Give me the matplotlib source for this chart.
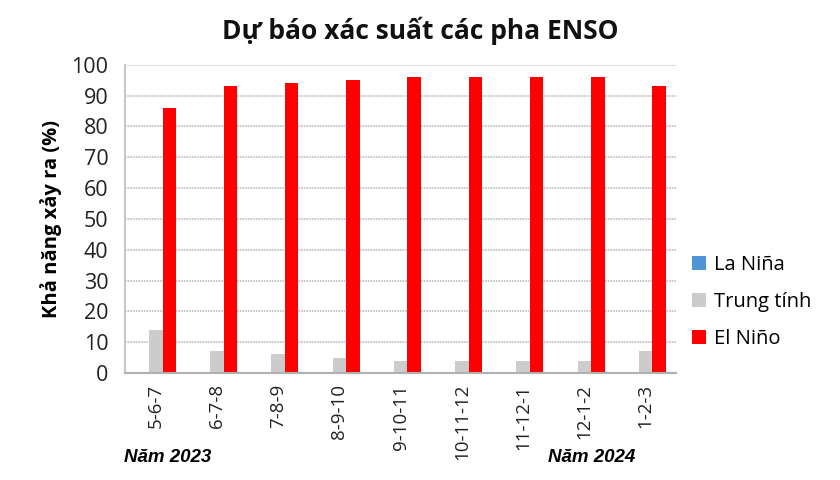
import matplotlib.pyplot as plt
import numpy as np

plt.rcParams['font.family'] = ['Open Sans', 'DejaVu Sans']

seasons = ['5-6-7', '6-7-8', '7-8-9', '8-9-10', '9-10-11', '10-11-12', '11-12-1', '12-1-2', '1-2-3']
la_nina = [0, 0, 0, 0, 0, 0, 0, 0, 0]
trung_tinh = [14, 7, 6, 5, 4, 4, 4, 4, 7]
el_nino = [86, 93, 94, 95, 96, 96, 96, 96, 93]

fig = plt.figure(figsize=(8.4, 4.8), dpi=100)
ax = fig.add_axes([0.149, 0.223, 0.656, 0.642])

x = np.arange(len(seasons))
w = 0.22
ax.bar(x - w, la_nina, w, color='#4f94d4', label='La Niña')
ax.bar(x, trung_tinh, w, color='#cccccc', label='Trung tính')
ax.bar(x + w, el_nino, w, color='#ff0000', label='El Niño')

ax.set_xlim(-0.5, len(seasons) - 0.5)
ax.set_ylim(0, 100)
ax.set_yticks(range(0, 101, 10))
ax.tick_params(axis='y', labelsize=15.5, length=0, pad=12, colors='#222222')
ax.set_xticks(x)
ax.set_xticklabels(seasons, rotation=90, fontsize=13.5)
ax.tick_params(axis='x', length=0, pad=8, colors='#222222')

ax.yaxis.grid(True, color='#b8c0c8', linestyle=(0, (1, 0.6)), linewidth=1.2)
ax.set_axisbelow(True)
for s in ['top', 'right']:
    ax.spines[s].set_visible(False)
ax.spines['left'].set_color('#c8c8c8')
ax.spines['bottom'].set_color('#b0b0b0')
ax.spines['left'].set_linewidth(1.5)
ax.spines['bottom'].set_linewidth(1.5)

ax.set_ylabel('Khả năng xảy ra (%)', fontsize=14.5, fontweight='bold', labelpad=7)
fig.text(0.5, 0.935, 'Dự báo xác suất các pha ENSO', ha='center', va='center',
         fontsize=19, fontweight='bold', color='#111111')

fig.text(0.148, 0.037, 'Năm 2023', fontsize=13.5, fontweight='bold', style='italic',
         family=['Liberation Sans', 'DejaVu Sans'])
fig.text(0.652, 0.037, 'Năm 2024', fontsize=13.5, fontweight='bold', style='italic',
         family=['Liberation Sans', 'DejaVu Sans'])

ax.legend(loc='center left', bbox_to_anchor=(0.995, 0.23), frameon=False,
          fontsize=14.5, handlelength=0.7, handleheight=0.7, handletextpad=0.4,
          labelspacing=0.85)

fig.savefig('out.png', dpi=100)
